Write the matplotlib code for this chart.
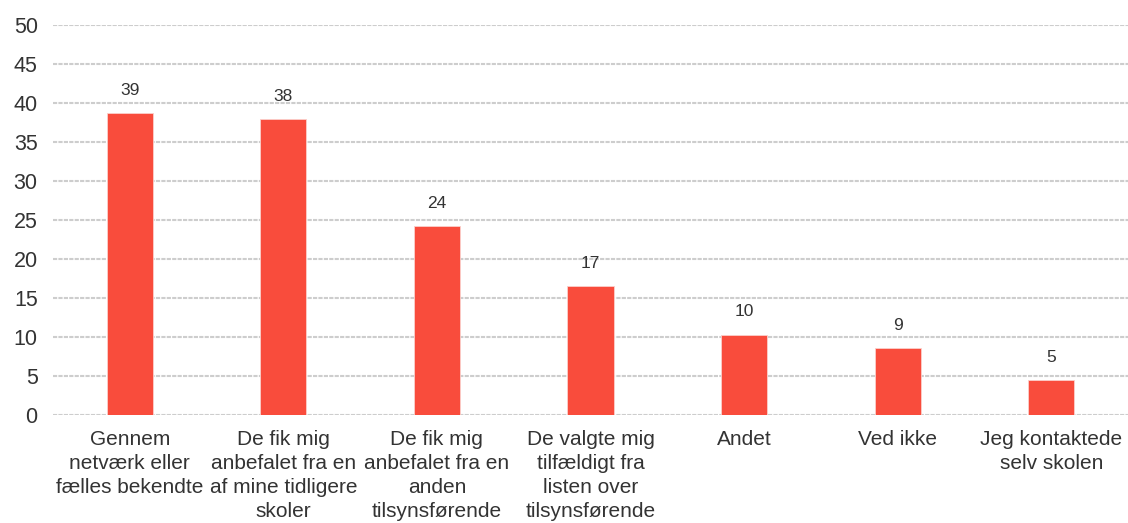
import matplotlib
matplotlib.use("Agg")
import matplotlib.pyplot as plt

categories = [
    "Gennem\nnetværk eller\nfælles bekendte",
    "De fik mig\nanbefalet fra en\naf mine tidligere\nskoler",
    "De fik mig\nanbefalet fra en\nanden\ntilsynsførende",
    "De valgte mig\ntilfældigt fra\nlisten over\ntilsynsførende",
    "Andet",
    "Ved ikke",
    "Jeg kontaktede\nselv skolen",
]
values = [38.7, 37.9, 24.2, 16.5, 10.3, 8.6, 4.5]
labels = ["39", "38", "24", "17", "10", "9", "5"]
yticks = [0, 5, 10, 15, 20, 25, 30, 35, 40, 45, 50]

plt.rcParams['font.family'] = ['Liberation Sans', 'DejaVu Sans']
text_color = "#333333"

fig = plt.figure(figsize=(11.28, 5.23), dpi=100)
ax = fig.add_axes([53 / 1128, 1 - 415 / 523, 1 - 53 / 1128, (415 - 25) / 523])

x = list(range(len(categories)))
bars = ax.bar(x, values, width=0.3, color="#F94C3C", edgecolor="#FBD0CB", linewidth=0.6, zorder=3)

for xi, v, lab in zip(x, values, labels):
    ax.annotate(lab, (xi, v), xytext=(0, 11), textcoords="offset points",
                ha="center", va="bottom", fontsize=12.5, color=text_color)

ax.set_xlim(-0.5, len(categories) - 0.5)
ax.set_ylim(0, 50)
ax.set_yticks(yticks)
ax.set_yticklabels([str(t) for t in yticks], fontsize=15.5, color=text_color)
ax.set_xticks(x)
ax.set_xticklabels(categories, fontsize=15, color=text_color, linespacing=1.32, va="top")
ax.tick_params(axis="both", length=0)
ax.tick_params(axis="y", pad=11)
ax.tick_params(axis="x", pad=11)

ax.yaxis.grid(True, color="#CDCDCD", linewidth=1.5, linestyle=(0, (2, 0.6)), zorder=0)
ax.set_axisbelow(True)
for s in ax.spines.values():
    s.set_visible(False)

fig.savefig("out.png", dpi=100)
